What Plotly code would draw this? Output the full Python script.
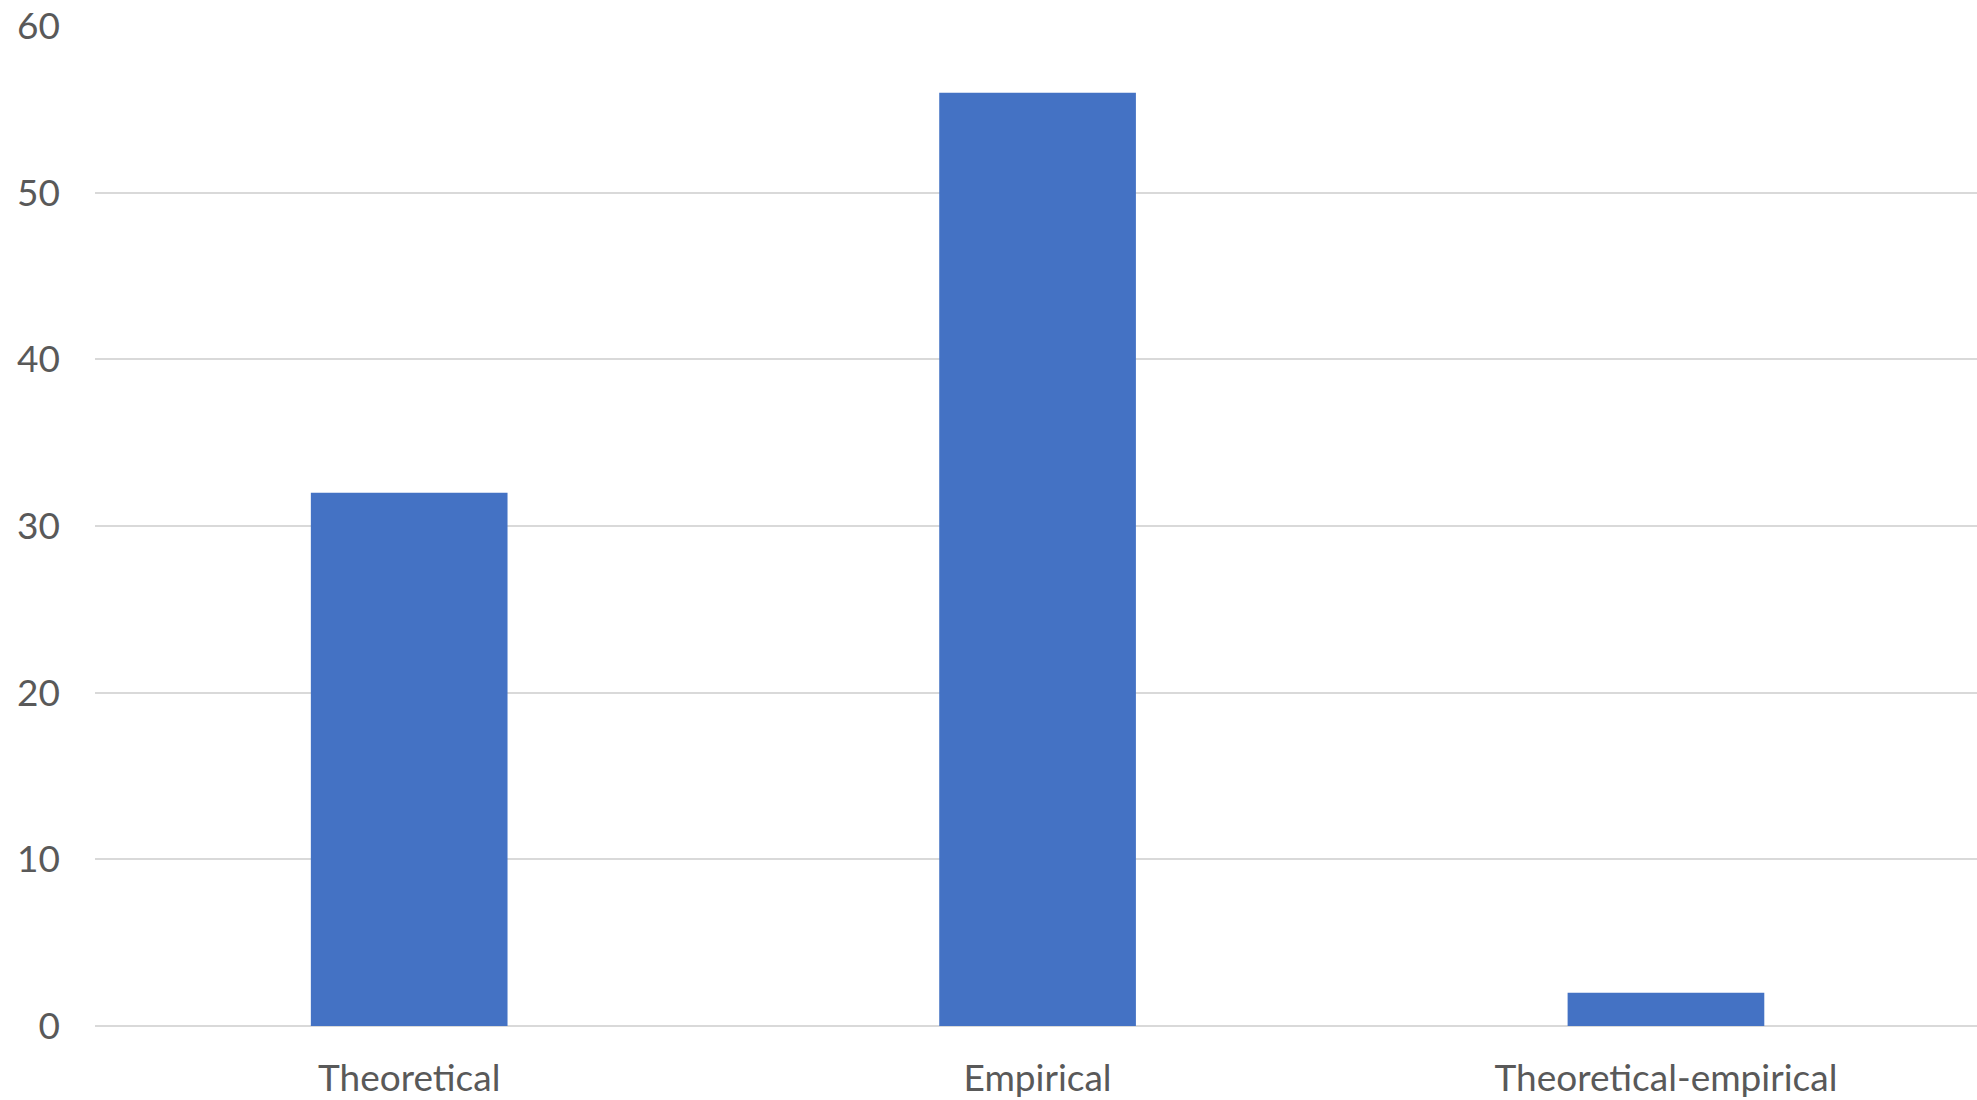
import plotly.graph_objects as go

# Publication counts by research type
categories = ["Theoretical", "Empirical", "Theoretical-empirical"]
counts = [32, 56, 2]
y_ticks = [0, 10, 20, 30, 40, 50, 60]

fig = go.Figure(
    go.Bar(
        x=categories,
        y=counts,
        marker=dict(color="#4472C4", line=dict(width=0)),
    )
)

fig.update_layout(
    width=1977,
    height=1100,
    margin=dict(l=95, r=0, t=26, b=74),
    paper_bgcolor="white",
    plot_bgcolor="white",
    bargap=0.687,
    showlegend=False,
    font=dict(family="Lato, 'Open Sans', sans-serif", color="#595959", size=37),
)

fig.update_xaxes(
    range=[-0.5, 2.495],
    showline=False,
    showgrid=False,
    ticks="",
    tickfont=dict(size=37, color="#595959"),
    ticklabelstandoff=27,
)

fig.update_yaxes(
    range=[0, 60],
    tickvals=y_ticks,
    showgrid=True,
    gridcolor="#d9d9d9",
    gridwidth=1.5,
    zeroline=True,
    zerolinecolor="#d9d9d9",
    zerolinewidth=1.5,
    showline=False,
    ticks="",
    tickfont=dict(size=37, color="#595959"),
    ticklabelstandoff=34,
)

fig.write_html("out.html")
